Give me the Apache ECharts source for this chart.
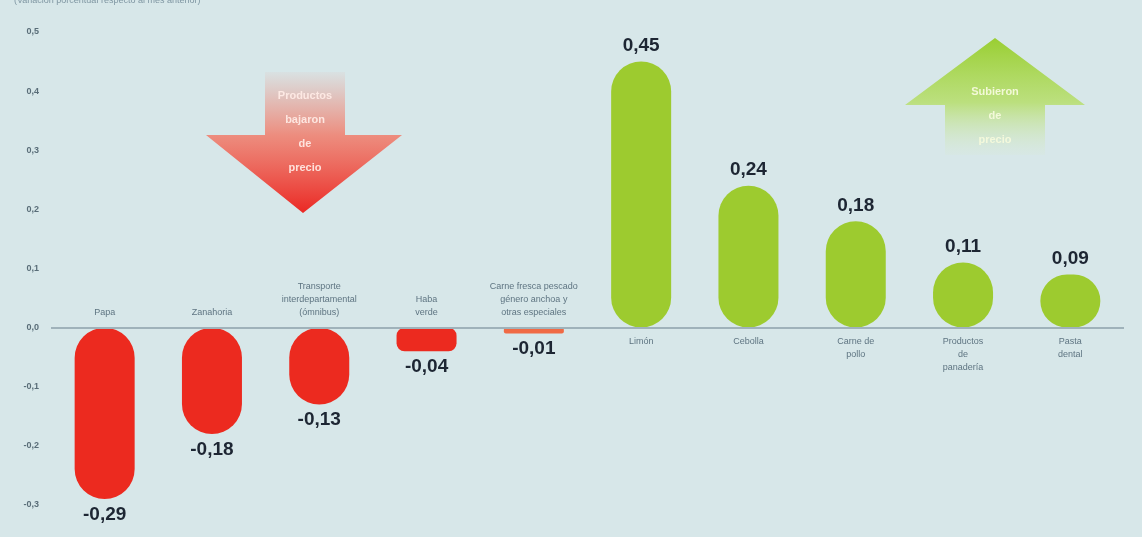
<!DOCTYPE html>
<html>
<head>
<meta charset="utf-8">
<script src="https://cdn.jsdelivr.net/npm/echarts@6/dist/echarts.min.js"></script>
<style>
html,body{margin:0;padding:0;background:#d7e7e9;}
#c{width:1142px;height:537px;}
</style>
</head>
<body>
<div id="c"></div>
<script>
const categories = ["Papa","Zanahoria","Transporte\ninterdepartamental\n(ómnibus)","Haba\nverde","Carne fresca pescado\ngénero anchoa y\notras especiales","Limón","Cebolla","Carne de\npollo","Productos\nde\npanadería","Pasta\ndental"];
const values = [-0.29,-0.18,-0.13,-0.04,-0.01,0.45,0.24,0.18,0.11,0.09];
const yTicks = [-0.3,-0.2,-0.1,0.0,0.1,0.2,0.3,0.4,0.5];

const RED = '#ec2a1f', GREEN = '#9dcb2f';
const fmt = v => v.toFixed(2).replace('.', ',');

const chart = echarts.init(document.getElementById('c'));
chart.setOption({
  backgroundColor: '#d7e7e9',
  animation: false,
  grid: {left: 51, right: 18, top: 32, bottom: 32},
  xAxis: {
    type: 'category', data: categories,
    axisLine: {show: false}, axisTick: {show: false}, axisLabel: {show: false}
  },
  yAxis: {
    type: 'value', min: -0.3, max: 0.5, interval: 0.1,
    axisLine: {show: false}, axisTick: {show: false},
    splitLine: {show: false},
    axisLabel: {
      color: '#596d78', fontSize: 9, fontWeight: 'bold', fontFamily: 'Liberation Sans',
      margin: 12, padding: [0,0,10,0],
      formatter: v => v.toFixed(1).replace('.', ',').replace('-0,0','0,0')
    }
  },
  graphic: [
    {type:'text', x: 14, y: -4, style:{text:'(Variación porcentual respecto al mes anterior)', fill:'#7f96a2', font:'9px Liberation Sans'}},
    // red arrow
    {type:'polygon', z: 0,
      shape:{points:[[265,72],[345,72],[345,135],[402,135],[303,213],[206,135],[265,135]]},
      style:{fill:{type:'linear',x:0,y:0,x2:0,y2:1,colorStops:[{offset:0,color:'rgba(245,120,100,0.05)'},{offset:0.45,color:'rgba(244,110,90,0.75)'},{offset:1,color:'rgba(236,30,25,0.95)'}]}}},
    {type:'text', z: 1, x: 305, y: 84, style:{text:'Productos\nbajaron\nde\nprecio', fill:'rgba(255,236,230,0.92)', font:'bold 11px Liberation Sans', align:'center', textAlign:'center', lineHeight:24}},
    // green arrow
    {type:'polygon', z: 0,
      shape:{points:[[995,38],[1085,105],[1045,105],[1045,155],[945,155],[945,105],[905,105]]},
      style:{fill:{type:'linear',x:0,y:0,x2:0,y2:1,colorStops:[{offset:0,color:'rgba(150,205,40,0.95)'},{offset:0.55,color:'rgba(175,220,80,0.7)'},{offset:1,color:'rgba(215,235,190,0.1)'}]}}},
    {type:'text', z: 1, x: 995, y: 80, style:{text:'Subieron\nde\nprecio', fill:'rgba(245,250,220,0.95)', font:'bold 11px Liberation Sans', align:'center', textAlign:'center', lineHeight:24}}
  ],
  series: [
    {
      type: 'bar', barWidth: 60, z: 3,
      data: values.map(v => ({
        value: v,
        itemStyle: {color: Math.abs(v) < 0.02 ? '#f06a45' : (v < 0 ? RED : GREEN),
          borderRadius: Math.abs(v) < 0.02 ? 2 : (Math.abs(v) < 0.06 ? 8 : 30)},
        label: {show: true, position: v < 0 ? 'bottom' : 'top', distance: 6,
          formatter: fmt(v), color: '#1d2633', fontSize: 19, fontWeight: 'bold', fontFamily: 'Liberation Sans'}
      })),
      markLine: {
        silent: true, symbol: 'none', label: {show: false},
        lineStyle: {color: '#9fb2ba', width: 2, type: 'solid'},
        data: [{yAxis: 0}]
      }
    },
    {
      type: 'scatter', symbolSize: 0, z: 4,
      data: values.map(v => ({
        value: 0,
        label: {show: true, position: v < 0 ? 'top' : 'bottom', distance: v < 0 ? 9 : 7,
          formatter: p => categories[p.dataIndex], color: '#3e5666', fontSize: 9, lineHeight: 13,
          fontFamily: 'Liberation Sans', align: 'center'}
      }))
    }
  ]
});
</script>
</body>
</html>
